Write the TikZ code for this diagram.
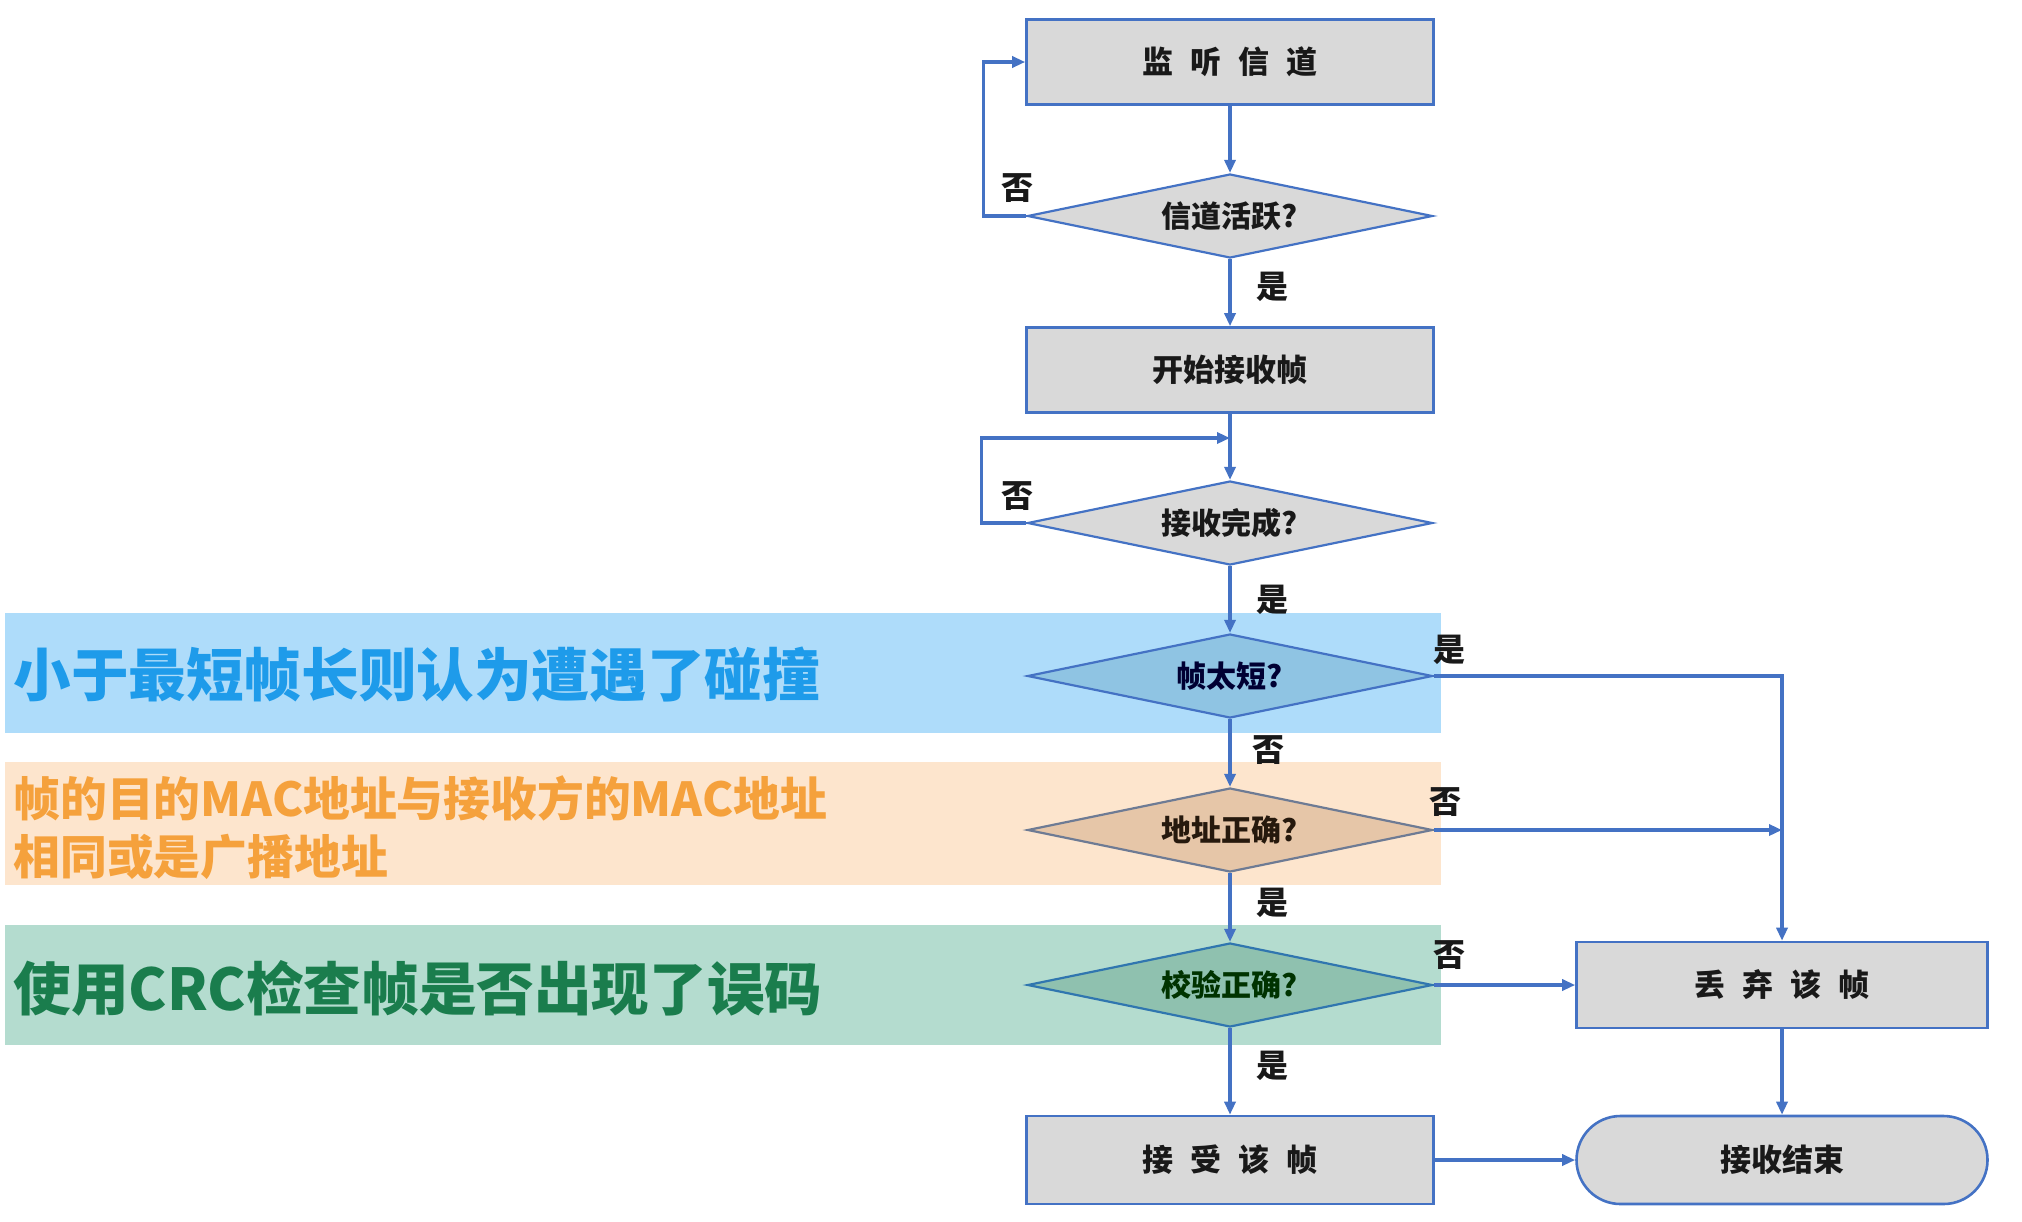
\documentclass[tikz,border=0pt]{standalone}
\usepackage{fontspec}
\setmainfont{Noto Sans CJK SC}
\usetikzlibrary{shapes.geometric,arrows.meta}
\definecolor{lnblue}{HTML}{4472C4}
\definecolor{boxgray}{HTML}{D9D9D9}
\definecolor{bandblue}{HTML}{AEDCFA}
\definecolor{bandorange}{HTML}{FDE5CD}
\definecolor{bandgreen}{HTML}{B4DCCF}
\definecolor{txtblue}{HTML}{1E9BEA}
\definecolor{txtorange}{HTML}{F5A13C}
\definecolor{txtgreen}{HTML}{1A7D4D}
\definecolor{dshort}{HTML}{8FC4E3}
\definecolor{daddr}{HTML}{E6C6A8}
\definecolor{dcrc}{HTML}{8FC1AF}
\newcommand\gapc{\hspace{0.55em}}
\begin{document}
\begin{tikzpicture}[x=0.5pt,y=-0.5pt,
  proc/.style={draw=lnblue, line width=1.3pt, fill=boxgray, minimum width=203.5pt, minimum height=42.5pt, inner sep=0pt, font=\fontsize{15.5}{18}\selectfont\bfseries, text=black!90},
  dec/.style={diamond, shape aspect=4.8, draw=lnblue, line width=1.1pt, fill=boxgray, minimum width=202.5pt, minimum height=42pt, inner sep=0pt, font=\fontsize{15}{18}\selectfont\bfseries, text=black!90},
  flow/.style={draw=lnblue, line width=1.6pt, -{Triangle[length=6.5pt,width=5.5pt]}},
  lab/.style={font=\fontsize{16}{18}\selectfont\bfseries, text=black!90, inner sep=0pt},
  note/.style={anchor=west, inner sep=0pt, font=\fontsize{28.8}{32}\selectfont\bfseries}
]
\useasboundingbox (0,0) rectangle (2022,1221);
\fill[white] (0,0) rectangle (2022,1221);

% bands
\fill[bandblue] (5,613) rectangle (1441,733);
\fill[bandorange] (5,762) rectangle (1441,885);
\fill[bandgreen] (5,925) rectangle (1441,1045);

\node[note, text=txtblue] (n1) at (13,675) {小于最短帧长则认为遭遇了碰撞};
\node[note, text=txtorange, align=left, font=\fontsize{23.4}{29}\selectfont\bfseries] (n2) at (13,828) {帧的目的MAC地址与接收方的MAC地址\\相同或是广播地址};
\node[note, text=txtgreen] (n3) at (13,988) {使用CRC检查帧是否出现了误码};

% nodes
\node[proc] (listen) at (1230,62) {监\gapc 听\gapc 信\gapc 道};
\node[dec] (active) at (1230,216) {信道活跃?};
\node[proc] (start) at (1230,370) {开始接收帧};
\node[dec] (complete) at (1230,523) {接收完成?};
\node[dec, fill=dshort, draw=lnblue, text={black!80!blue}] (short) at (1230,676) {帧太短?};
\node[dec, fill=daddr, draw={gray!70!lnblue}, text={black!80!brown}] (addr) at (1230,830) {地址正确?};
\node[dec, fill=dcrc, draw={lnblue!70!teal}, text={black!80!green}] (crc) at (1230,985) {校验正确?};
\node[proc, minimum height=44pt] (accept) at (1230,1160) {接\gapc 受\gapc 该\gapc 帧};
\node[proc, minimum width=205.5pt, minimum height=43pt] (discard) at (1782,985) {丢\gapc 弃\gapc 该\gapc 帧};
\node[proc, minimum width=205.5pt, minimum height=44pt, rounded corners=22pt] (finish) at (1782,1160) {接收结束};

\coordinate (j1) at (1230,438);

% connectors
\draw[flow] (listen.south) -- (active.north);
\draw[flow] (active.west) -- ++(-43,0) |- (listen.west);
\draw[flow] (active.south) -- (start.north);
\draw[flow] (start.south) -- (complete.north);
\draw[flow] (complete.west) -- ++(-45,0) |- (j1);
\draw[flow] (complete.south) -- (short.north);
\draw[flow] (short.east) -| (discard.north);
\draw[flow] (short.south) -- (addr.north);
\draw[flow] (addr.east) -- (addr.east -| discard.north);
\draw[flow] (addr.south) -- (crc.north);
\draw[flow] (crc.east) -- (discard.west);
\draw[flow] (crc.south) -- (accept.north);
\draw[flow] (accept.east) -- (finish.west);
\draw[flow] (discard.south) -- (finish.north);

% labels
\node[lab] (l1) at (1017,188) {否};
\node[lab] (l2) at (1272,287) {是};
\node[lab] (l3) at (1017,496) {否};
\node[lab] (l4) at (1272,600) {是};
\node[lab] (l5) at (1449,650) {是};
\node[lab] (l6) at (1268,750) {否};
\node[lab] (l7) at (1445,802) {否};
\node[lab] (l8) at (1272,903) {是};
\node[lab] (l9) at (1449,955) {否};
\node[lab] (l10) at (1272,1066) {是};
\end{tikzpicture}
\end{document}
